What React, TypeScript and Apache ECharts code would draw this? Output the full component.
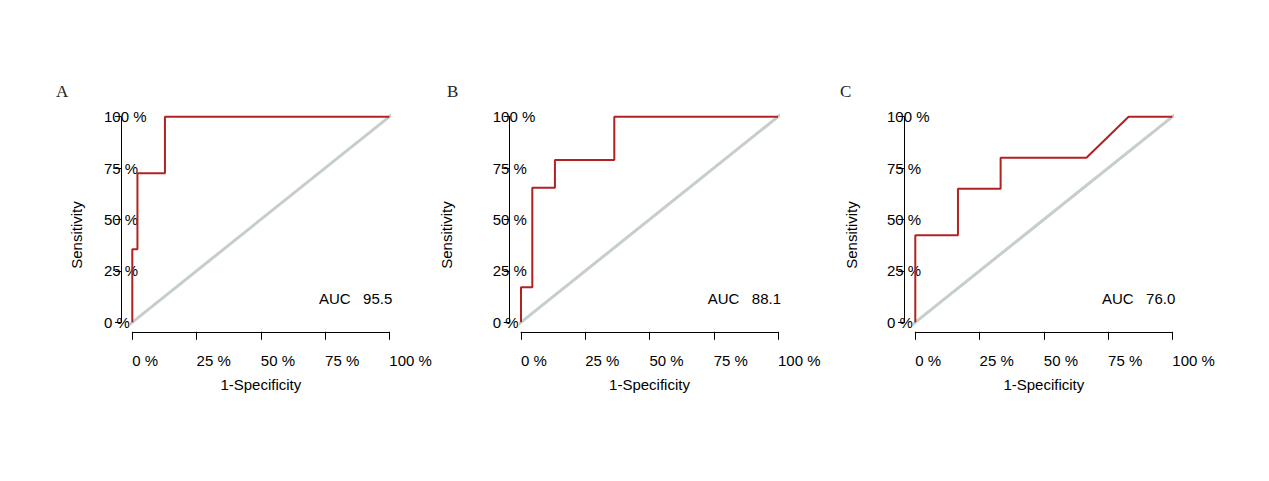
import React, { useEffect, useRef } from "react";
import * as echarts from "echarts";

// ---- data ----
const panelLetters = ["A", "B", "C"];
const aucLabels = ["95.5", "88.1", "76.0"];
const xAxisTitle = "1-Specificity";
const yAxisTitle = "Sensitivity";

// ROC curves: 1-specificity (%) and sensitivity (%)
const fprA = [0, 0, 2, 2, 12.7, 12.7, 100];
const tprA = [0, 35.5, 35.5, 72.5, 72.5, 100, 100];
const fprB = [0, 0, 4.4, 4.4, 13.2, 13.2, 36.3, 36.3, 100];
const tprB = [0, 17, 17, 65.5, 65.5, 79, 79, 100, 100];
const fprC = [0, 0, 16.6, 16.6, 33.2, 33.2, 66.6, 83, 100];
const tprC = [0, 42.4, 42.4, 65, 65, 80, 80, 100, 100];

// reference diagonal (extends over the plot region)
const diagX = [-4, 104];
const diagY = [-4, 104];

const curves = [
  [fprA, tprA],
  [fprB, tprB],
  [fprC, tprC],
];

// ---- layout ----
const FONT = "'Liberation Sans', Arial, Helvetica, sans-serif";
const gridLefts = [132.3, 521, 915.3];
const gridTop = 116.7;
const gridW = 257;
const gridH = 205.6;
const sensX = [76, 446, 851.7];
const letterX = [56, 447, 840];

export default function App() {
  const ref = useRef<HTMLDivElement>(null);

  useEffect(() => {
    if (!ref.current) return;
    const chart = echarts.init(ref.current, undefined, { renderer: "svg" });
    const pct = (v: number) => `${v} %`;
    const textStyle = { color: "#000", fontSize: 15, fontFamily: FONT };

    const grid = gridLefts.map((l) => ({ left: l, top: gridTop, width: gridW, height: gridH }));
    const xAxis = gridLefts.map((_, i) => ({
      type: "value",
      gridIndex: i,
      min: 0,
      max: 100,
      interval: 25,
      offset: 9.5,
      splitLine: { show: false },
      axisLine: { show: true, onZero: false, lineStyle: { color: "#000", width: 1 } },
      axisTick: { show: true, length: 8, lineStyle: { color: "#000", width: 1 } },
      axisLabel: { ...textStyle, align: "left", margin: 21, formatter: pct, showMinLabel: true, showMaxLabel: true },
      name: xAxisTitle,
      nameLocation: "middle",
      nameGap: 45,
      nameTextStyle: { ...textStyle },
    }));
    const yAxis = gridLefts.map((_, i) => ({
      type: "value",
      gridIndex: i,
      min: 0,
      max: 100,
      interval: 25,
      offset: 11.3,
      splitLine: { show: false },
      axisLine: { show: true, onZero: false, lineStyle: { color: "#000", width: 1 } },
      axisTick: { show: true, length: 6, lineStyle: { color: "#000", width: 1 } },
      axisLabel: { ...textStyle, align: "left", margin: 17, formatter: pct, showMinLabel: true, showMaxLabel: true },
    }));

    const series: any[] = [];
    curves.forEach(([fpr, tpr], i) => {
      series.push({
        type: "line",
        xAxisIndex: i,
        yAxisIndex: i,
        data: diagX.map((x, k) => [x, diagY[k]]),
        symbol: "none",
        clip: false,
        silent: true,
        lineStyle: { color: "#c5cdcd", width: 3 },
        z: 2,
      });
      series.push({
        type: "line",
        xAxisIndex: i,
        yAxisIndex: i,
        data: fpr.map((x, k) => [x, tpr[k]]),
        symbol: "none",
        clip: false,
        silent: true,
        lineStyle: { color: "#b22222", width: 2 },
        z: 3,
      });
    });

    const graphic: any[] = [];
    gridLefts.forEach((l, i) => {
      graphic.push({
        type: "text",
        x: letterX[i],
        y: 91,
        style: { text: panelLetters[i], font: "17px 'Liberation Serif', 'Times New Roman', serif", fill: "#222", align: "left", verticalAlign: "middle" },
      });
      graphic.push({
        type: "text",
        x: sensX[i],
        y: 235,
        rotation: Math.PI / 2,
        style: { text: yAxisTitle, font: `15px ${FONT}`, fill: "#000", align: "center", verticalAlign: "middle" },
      });
      graphic.push({
        type: "text",
        x: l + gridW + 3,
        y: 298.3,
        style: { text: `AUC   ${aucLabels[i]}`, font: `15px ${FONT}`, fill: "#000", align: "right", verticalAlign: "middle" },
      });
    });

    chart.setOption({
      animation: false,
      backgroundColor: "#fff",
      grid,
      xAxis,
      yAxis,
      series,
      graphic,
    });
    return () => chart.dispose();
  }, []);

  return (
    <div
      ref={ref}
      style={{ position: "fixed", left: 0, top: 0, width: 1269, height: 481, background: "#fff" }}
    />
  );
}
